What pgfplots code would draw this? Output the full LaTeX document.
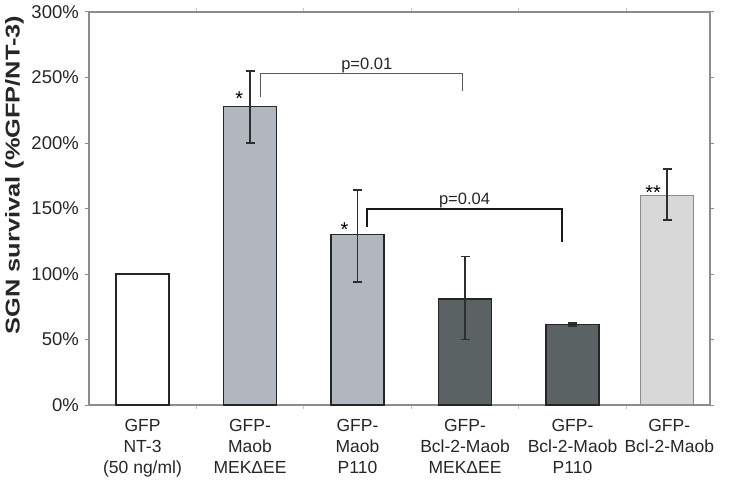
\documentclass[border=0pt]{standalone}
\usepackage{pgfplots}
\pgfplotsset{compat=1.18}
\usepackage{fontspec}
\setmainfont{Liberation Sans}
\usepackage{graphicx}
\definecolor{axisgray}{HTML}{8C8C8C}
\definecolor{bluegray}{HTML}{B2B7BE}
\definecolor{darkslate}{HTML}{5B6264}
\definecolor{lightbar}{HTML}{D8D8D8}
\definecolor{errcol}{HTML}{2E2E2E}
\begin{document}
\begin{tikzpicture}
\begin{axis}[
  scale only axis, width=621pt, height=393pt,
  xmin=-0.498, xmax=5.279, ymin=0, ymax=300,
  ytick={0,50,...,300},
  yticklabel={\pgfmathprintnumber[fixed]{\tick}\%},
  /pgf/number format/assume math mode=true,
  axis line style={draw=axisgray, line width=1.2pt},
  tick align=outside,
  major tick length=4pt, minor tick length=4pt,
  ytick style={draw=axisgray, line width=1pt},
  xtick={0,1,2,3,4,4.9},
  major x tick style={draw=none},
  minor xtick={0.5,1.5,2.5,3.5,4.5},
  minor x tick style={draw=axisgray!50, line width=0.8pt},
  xticklabels={{GFP\\NT-3\\(50 ng/ml)},{GFP-\\Maob\\MEKΔEE},{GFP-\\Maob\\P110},{GFP-\\Bcl-2-Maob\\MEKΔEE},{GFP-\\Bcl-2-Maob\\P110},{GFP-\\Bcl-2-Maob}},
  xticklabel style={align=center, font=\fontsize{17.5}{21}\selectfont, text=black!85, anchor=north, inner sep=0pt, yshift=-10pt},
  yticklabel style={font=\fontsize{18.5}{22}\selectfont, text=black!85, inner sep=0pt, xshift=-6pt},
  clip=false,
  error bars/error bar style={line width=1.6pt, color=errcol},
  error bars/error mark options={rotate=90, mark size=4.5pt, line width=1.6pt, color=errcol},
]
\addplot[ybar, bar width=53pt, bar shift=0pt, fill=white, draw=black!85, line width=1.5pt] coordinates {(0,100)};
\addplot[ybar, bar width=53pt, bar shift=0pt, fill=bluegray, draw=black!85, line width=1.5pt,
  error bars/.cd, y dir=both, y explicit]
  table[x=x, y=y, y error plus=ep, y error minus=em] {
x y ep em
1 228 27 28
2 130 34 36
};
\addplot[ybar, bar width=53pt, bar shift=0pt, fill=darkslate, draw=black!85, line width=1.5pt,
  error bars/.cd, y dir=both, y explicit]
  table[x=x, y=y, y error plus=ep, y error minus=em] {
x y ep em
3 81 32.5 31
4 61.5 1 1
};
\addplot[ybar, bar width=53pt, bar shift=0pt, fill=lightbar, draw=axisgray, line width=1.3pt,
  error bars/.cd, y dir=both, y explicit]
  table[x=x, y=y, y error plus=ep, y error minus=em] {
x y ep em
4.88 160 20 19
};
% significance brackets
\draw[black!65, line width=1pt] (axis cs:1.093,235) -- (axis cs:1.093,252.7) -- (axis cs:2.972,252.7) -- (axis cs:2.972,239.7);
\node[anchor=base, inner sep=0pt, font=\fontsize{16.5}{18}\selectfont, text=black!85] at (axis cs:2.086,256) {p=0.01};
\draw[black!90, line width=2pt] (axis cs:2.086,136) -- (axis cs:2.086,149.6) -- (axis cs:3.9,149.6) -- (axis cs:3.9,124.4);
\node[anchor=base, inner sep=0pt, font=\fontsize{16.5}{18}\selectfont, text=black!85] at (axis cs:2.995,153) {p=0.04};
\node[font=\fontsize{20}{22}\selectfont, inner sep=0pt] at (axis cs:0.9,234) {*};
\node[font=\fontsize{20}{22}\selectfont, inner sep=0pt] at (axis cs:1.88,133.5) {*};
\node[font=\fontsize{20}{22}\selectfont, inner sep=0pt] at (axis cs:4.75,162.5) {**};
\node[xshift=-74.5pt, rotate=90, inner sep=0pt, font=\bfseries\fontsize{20}{24}\selectfont, text=black!85] at (rel axis cs:0,0.585) {\scalebox{1.27}[1]{SGN survival (\%GFP/NT-3)}};
\end{axis}
\pgfresetboundingbox
\path[use as bounding box] ([shift={(-89pt,-75pt)}]current axis.south west) rectangle ([shift={(19pt,12pt)}]current axis.north east);
\end{tikzpicture}
\end{document}
